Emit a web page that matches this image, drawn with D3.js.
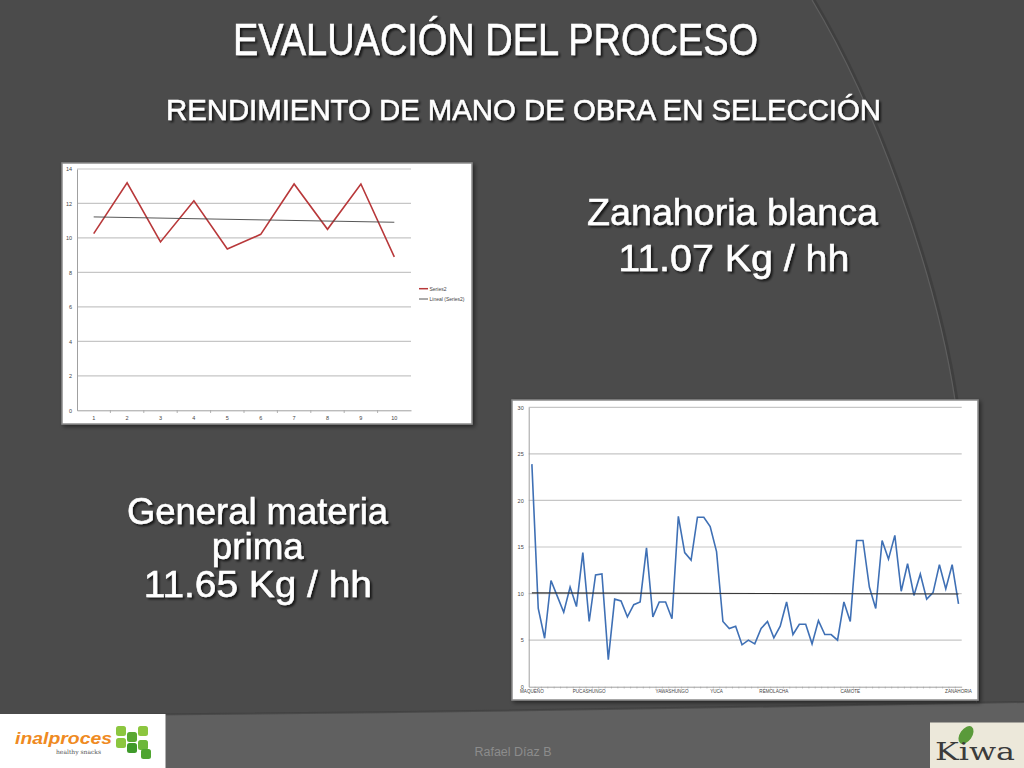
<!DOCTYPE html>
<html><head><meta charset="utf-8">
<script src="https://cdn.jsdelivr.net/npm/d3@7"></script>
<style>
html,body{margin:0;padding:0;background:#4b4b4b;}
svg{display:block;}
</style></head>
<body>
<svg id="slide" width="1024" height="768"></svg>
<script>
// ---------- DATA ----------
// Chart 1: Zanahoria blanca (Series2) by day 1..10
const zanCategories = ["1","2","3","4","5","6","7","8","9","10"];
const zanValues = [10.25, 13.2, 9.77, 12.16, 9.36, 10.21, 13.13, 10.5, 13.13, 8.9];
const zanTrend = [11.22, 10.91];           // Lineal (Series2), at first and last category
const zanYTicks = [0, 2, 4, 6, 8, 10, 12, 14];
const zanLegend = ["Series2", "Lineal (Series2)"];

// Chart 2: General materia prima (68 points)
const genValues = [
  23.9, 8.4, 5.2, 11.4, 9.7, 8.0, 10.7, 8.6, 14.4, 7.0,
  12.0, 12.1, 2.9, 9.4, 9.2, 7.5, 8.8, 9.1, 14.9, 7.5,
  9.1, 9.1, 7.3, 18.3, 14.4, 13.6, 18.2, 18.2, 17.2, 14.5,
  7.0, 6.25, 6.5, 4.5, 5.0, 4.6, 6.25, 7.0, 5.25, 6.5,
  9.1, 5.6, 6.7, 6.7, 4.6, 7.1, 5.6, 5.6, 5.0, 9.1,
  7.0, 15.7, 15.7, 10.7, 8.4, 15.7, 13.7, 16.25, 10.25, 13.2,
  9.8, 12.1, 9.4, 10.1, 13.1, 10.5, 13.1, 8.9
];
const genCategories = [
  "MAQUEÑO","","","","","","","","","PUCASHUNGO",
  "","","","","","","","","","",
  "","","YAWASHUNGO","","","","","","","YUCA",
  "","","","","","","","","REMOLACHA","",
  "","","","","","","","","","",
  "CAMOTE","","","","","","","","","",
  "","","","","","","","ZANAHORIA"
];
const genTrend = [10.07, 9.96];
const genYTicks = [0, 5, 10, 15, 20, 25, 30];

// Texts
const titleText = "EVALUACIÓN DEL PROCESO";
const subtitleText = "RENDIMIENTO DE MANO DE OBRA EN SELECCIÓN";
const zanLines = ["Zanahoria blanca", "11.07 Kg / hh"];
const genLines = ["General materia", "prima", "11.65 Kg / hh"];
const footerText = "Rafael Díaz B";

// ---------- SLIDE ----------
const svg = d3.select("#slide");
const defs = svg.append("defs");
const sh = defs.append("filter").attr("id","tshadow").attr("x","-10%").attr("y","-20%").attr("width","130%").attr("height","160%");
sh.append("feDropShadow").attr("dx",2).attr("dy",2).attr("stdDeviation",1).attr("flood-color","#000").attr("flood-opacity",0.7);
const csh = defs.append("filter").attr("id","cshadow").attr("x","-5%").attr("y","-5%").attr("width","110%").attr("height","110%");
csh.append("feDropShadow").attr("dx",2).attr("dy",2).attr("stdDeviation",2).attr("flood-color","#000").attr("flood-opacity",0.5);

svg.append("rect").attr("width",1024).attr("height",768).attr("fill","#4b4b4b");
// right arc decoration
const arcD = "M812,0 C875,105 935,270 955,400 C968,490 975,600 978,768";
svg.append("path").attr("d",arcD + " L1024,768 L1024,0 Z").attr("fill","#4a4a4a");
svg.append("path").attr("d",arcD).attr("fill","none").attr("stroke","#383838").attr("stroke-width",3).attr("opacity",0.6)
  .attr("transform","translate(2,0)");
svg.append("path").attr("d",arcD).attr("fill","none").attr("stroke","#5e5e5e").attr("stroke-width",1.2);
// footer band
svg.append("path").attr("d","M0,716 Q500,712 1024,702 L1024,768 L0,768 Z").attr("fill","#606060");
svg.append("path").attr("d","M0,716 Q500,712 1024,702").attr("fill","none").attr("stroke","#3c3c3c").attr("stroke-width",2).attr("opacity",0.6);

const font = "'Liberation Sans', Arial, sans-serif";
function fitText(x, y, txt, size, width, anchor) {
  return svg.append("text").attr("x",x).attr("y",y).attr("text-anchor",anchor||"middle")
    .attr("font-family",font).attr("font-size",size).attr("fill","#ffffff")
    .attr("stroke","#ffffff").attr("stroke-width",0.5)
    .attr("textLength",width).attr("lengthAdjust","spacingAndGlyphs")
    .attr("filter","url(#tshadow)").text(txt);
}
fitText(495.5, 54.5, titleText, 44, 525);
fitText(523.5, 120, subtitleText, 30, 715);
fitText(732.5, 225, zanLines[0], 37, 291);
fitText(733.8, 270.7, zanLines[1], 37, 231);
fitText(257.5, 524, genLines[0], 36, 261);
fitText(257.8, 559.3, genLines[1], 36, 92);
fitText(257.8, 596.7, genLines[2], 36, 228);

svg.append("text").attr("x",513).attr("y",756).attr("text-anchor","middle")
  .attr("font-family",font).attr("font-size",12.5).attr("fill","#8c8c8c").text(footerText);

// ---------- CHART 1 ----------
const c1 = {x0:62, y0:163, x1:472, y1:424};
const g1 = svg.append("g");
g1.append("rect").attr("x",c1.x0).attr("y",c1.y0).attr("width",c1.x1-c1.x0).attr("height",c1.y1-c1.y0)
  .attr("fill","#fff").attr("stroke","#8a8a8a").attr("stroke-width",1.5).attr("filter","url(#cshadow)");
const x1s = d3.scaleBand().domain(zanCategories).range([77, 411]).paddingInner(0).paddingOuter(0);
const y1s = d3.scaleLinear().domain([0,14]).range([410.3, 169]);
const cx1 = d => x1s(d) + x1s.bandwidth()/2;
g1.append("g").selectAll("line").data(zanYTicks.slice(1)).join("line")
  .attr("x1",77).attr("x2",411).attr("y1",d=>y1s(d)).attr("y2",d=>y1s(d))
  .attr("stroke","#c6c6c6").attr("stroke-width",1.2);
const yAx1 = d3.axisLeft(y1s).tickValues(zanYTicks).tickSize(0).tickPadding(5);
const ya1 = g1.append("g").attr("transform","translate(77,0)").call(yAx1);
ya1.select(".domain").attr("stroke","#a0a0a0");
ya1.selectAll("text").attr("font-family",font).attr("font-size",5.5).attr("fill","#444");
const xAx1 = d3.axisBottom(x1s).tickSize(0).tickPadding(6);
const xa1 = g1.append("g").attr("transform","translate(0,410.3)").call(xAx1);
xa1.select(".domain").attr("stroke","#a0a0a0");
xa1.selectAll("text").attr("font-family",font).attr("font-size",5.5).attr("fill","#444");
g1.append("g").selectAll("line").data(zanCategories.slice(1)).join("line")
  .attr("x1",d=>x1s(d)).attr("x2",d=>x1s(d)).attr("y1",410.3).attr("y2",413)
  .attr("stroke","#a0a0a0").attr("stroke-width",0.8);
g1.append("path").datum(zanValues)
  .attr("d", d3.line().x((d,i)=>cx1(zanCategories[i])).y(d=>y1s(d)))
  .attr("fill","none").attr("stroke","#b8383a").attr("stroke-width",1.6).attr("stroke-linejoin","miter");
g1.append("path").datum(zanTrend)
  .attr("d", d3.line().x((d,i)=>cx1(zanCategories[i===0?0:zanCategories.length-1])).y(d=>y1s(d)))
  .attr("fill","none").attr("stroke","#444").attr("stroke-width",0.9);
// legend
const leg = g1.append("g");
leg.selectAll("line").data(zanLegend).join("line")
  .attr("x1",419).attr("x2",428).attr("y1",(d,i)=>288.7+i*10.3).attr("y2",(d,i)=>288.7+i*10.3)
  .attr("stroke",(d,i)=>i===0?"#b8383a":"#444").attr("stroke-width",(d,i)=>i===0?1.5:0.9);
leg.selectAll("text").data(zanLegend).join("text")
  .attr("x",429.5).attr("y",(d,i)=>290.5+i*10.3).attr("font-family",font).attr("font-size",5)
  .attr("fill","#444").text(d=>d);

// ---------- CHART 2 ----------
const c2 = {x0:512, y0:400, x1:978, y1:700};
const g2 = svg.append("g");
g2.append("rect").attr("x",c2.x0).attr("y",c2.y0).attr("width",c2.x1-c2.x0).attr("height",c2.y1-c2.y0)
  .attr("fill","#fff").attr("stroke","#8a8a8a").attr("stroke-width",1.5).attr("filter","url(#cshadow)");
const idx = d3.range(genValues.length);
const x2s = d3.scaleBand().domain(idx).range([528.7, 961.7]).paddingInner(0).paddingOuter(0);
const y2s = d3.scaleLinear().domain([0,30]).range([686.7, 407.3]);
const cx2 = i => x2s(i) + x2s.bandwidth()/2;
g2.append("g").selectAll("line").data(genYTicks.slice(1)).join("line")
  .attr("x1",528.7).attr("x2",961.7).attr("y1",d=>y2s(d)).attr("y2",d=>y2s(d))
  .attr("stroke","#c6c6c6").attr("stroke-width",1.2);
const yAx2 = d3.axisLeft(y2s).tickValues(genYTicks).tickSize(0).tickPadding(5);
const ya2 = g2.append("g").attr("transform","translate(528.7,0)").call(yAx2);
ya2.select(".domain").attr("stroke","#a0a0a0");
ya2.selectAll("text").attr("font-family",font).attr("font-size",5.5).attr("fill","#444");
const xAx2 = d3.axisBottom(x2s).tickSize(0).tickPadding(3).tickFormat(i=>genCategories[i]);
const xa2 = g2.append("g").attr("transform","translate(0,686.7)").call(xAx2);
xa2.select(".domain").attr("stroke","#a0a0a0");
xa2.selectAll("text").attr("font-family",font).attr("font-size",4.6).attr("fill","#444");
g2.append("g").selectAll("line").data(idx.slice(1)).join("line")
  .attr("x1",d=>x2s(d)).attr("x2",d=>x2s(d)).attr("y1",686.7).attr("y2",688.5)
  .attr("stroke","#a0a0a0").attr("stroke-width",0.6);
g2.append("path").datum(genValues)
  .attr("d", d3.line().x((d,i)=>cx2(i)).y(d=>y2s(d)))
  .attr("fill","none").attr("stroke","#3f70b5").attr("stroke-width",1.6);
g2.append("path").datum(genTrend)
  .attr("d", d3.line().x((d,i)=>cx2(i===0?0:genValues.length-1)).y(d=>y2s(d)))
  .attr("fill","none").attr("stroke","#333").attr("stroke-width",1.1);

// ---------- LOGOS ----------
const lg = svg.append("g");
lg.append("rect").attr("x",0).attr("y",714).attr("width",165.5).attr("height",54).attr("fill","#fff");
lg.append("text").attr("x",15).attr("y",744).attr("font-family",font).attr("font-weight","bold")
  .attr("font-style","italic").attr("font-size",17).attr("fill","#ef8a22")
  .attr("textLength",97).attr("lengthAdjust","spacingAndGlyphs").text("inalproces");
lg.append("text").attr("x",56).attr("y",754).attr("font-family","'DejaVu Serif', serif")
  .attr("font-size",6).attr("fill","#555").text("healthy snacks");
const sq = [[116,726,"#8cc63f"],[127,732,"#5aa832"],[138,726,"#8cc63f"],[127,743,"#3f9a2a"],[138,740,"#6cb83a"],[116,738,"#8cc63f"],[141,749,"#4fa530"]];
lg.selectAll("rect.sq").data(sq).join("rect").attr("class","sq")
  .attr("x",d=>d[0]).attr("y",d=>d[1]).attr("width",10).attr("height",10).attr("rx",2.5).attr("fill",d=>d[2]);
lg.append("rect").attr("x",930).attr("y",722.5).attr("width",94).attr("height",45.5).attr("fill","#ece8da");
lg.append("ellipse").attr("cx",966).attr("cy",735).attr("rx",6).attr("ry",10)
  .attr("transform","rotate(35,966,735)").attr("fill","#5a9a3a");
lg.append("text").attr("x",935).attr("y",760).attr("font-family","'DejaVu Serif', 'Liberation Serif', serif")
  .attr("font-size",25).attr("fill","#3b3b3b").attr("textLength",80).attr("lengthAdjust","spacingAndGlyphs").text("Kiwa");
</script>
</body></html>
